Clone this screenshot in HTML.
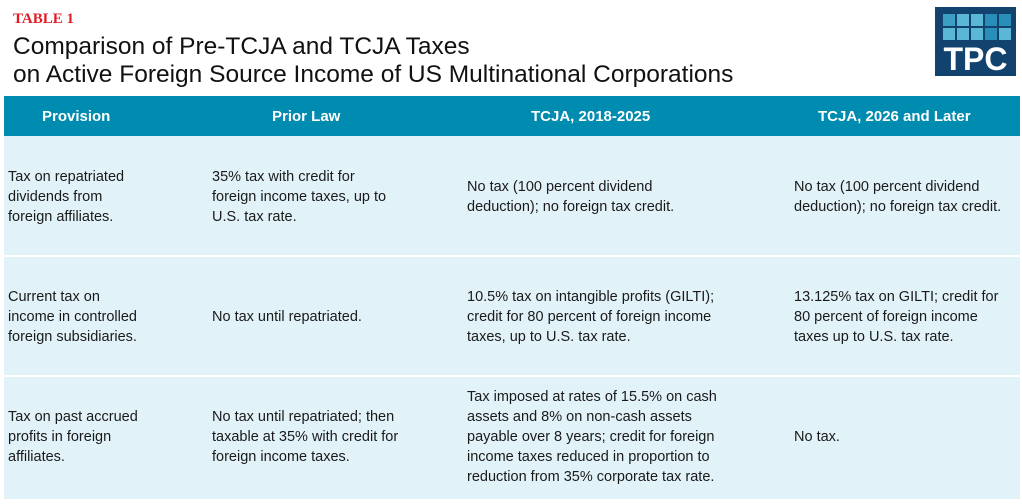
<!DOCTYPE html>
<html><head><style>
body{margin:0;width:1022px;height:504px;background:#fff;position:relative;font-family:"Liberation Sans",sans-serif;overflow:hidden}
.a{position:absolute}
.t{font-size:14.5px;line-height:20px;color:#1a1a1a}
.h{color:#fff;font-weight:bold;font-size:15px;top:108px}
.sq{position:absolute;width:12px;height:12px}
</style></head><body>
<div class="a" style="left:13px;top:11px;color:#e21b23;font-family:'Liberation Serif',serif;font-weight:bold;font-size:15px">TABLE 1</div>
<div class="a" style="left:13px;top:33px;font-size:24.5px;line-height:28px;color:#111">Comparison of Pre-TCJA and TCJA Taxes<br>on Active Foreign Source Income of US Multinational Corporations</div>
<div class="a" style="left:935px;top:7px;width:81px;height:69px;background:#12436f">
<div class="sq" style="left:8px;top:7px;background:#3d9ec4"></div><div class="sq" style="left:22px;top:7px;background:#5ab8d6"></div><div class="sq" style="left:36px;top:7px;background:#5ab8d6"></div><div class="sq" style="left:50px;top:7px;background:#2a8fb8"></div><div class="sq" style="left:64px;top:7px;background:#2a8fb8"></div>
<div class="sq" style="left:8px;top:21px;background:#5ab8d6"></div><div class="sq" style="left:22px;top:21px;background:#5ab8d6"></div><div class="sq" style="left:36px;top:21px;background:#5ab8d6"></div><div class="sq" style="left:50px;top:21px;background:#2a8fb8"></div><div class="sq" style="left:64px;top:21px;background:#5ab8d6"></div>
<div class="a" style="left:0;width:81px;top:36px;text-align:center;color:#fff;font-weight:bold;font-size:32px;line-height:32px">TPC</div>
</div>
<div class="a" style="left:4px;top:96px;width:1016px;height:40px;background:#008bb0"></div>
<div class="a h" style="left:42px">Provision</div>
<div class="a h" style="left:272px">Prior Law</div>
<div class="a h" style="left:531px">TCJA, 2018-2025</div>
<div class="a h" style="left:818px">TCJA, 2026 and Later</div>
<div class="a" style="left:4px;top:136px;width:1016px;height:119px;background:#e2f2f9"></div>
<div class="a" style="left:4px;top:257px;width:1016px;height:118px;background:#e2f2f9"></div>
<div class="a" style="left:4px;top:377px;width:1016px;height:122px;background:#e2f2f9"></div>
<div class="a t" style="left:8px;top:167px">Tax on repatriated<br>dividends from<br>foreign affiliates.</div>
<div class="a t" style="left:212px;top:167px">35% tax with credit for<br>foreign income taxes, up to<br>U.S. tax rate.</div>
<div class="a t" style="left:467px;top:177px">No tax (100 percent dividend<br>deduction); no foreign tax credit.</div>
<div class="a t" style="left:794px;top:177px">No tax (100 percent dividend<br>deduction); no foreign tax credit.</div>
<div class="a t" style="left:8px;top:287px">Current tax on<br>income in controlled<br>foreign subsidiaries.</div>
<div class="a t" style="left:212px;top:307px">No tax until repatriated.</div>
<div class="a t" style="left:467px;top:287px">10.5% tax on intangible profits (GILTI);<br>credit for 80 percent of foreign income<br>taxes, up to U.S. tax rate.</div>
<div class="a t" style="left:794px;top:287px">13.125% tax on GILTI; credit for<br>80 percent of foreign income<br>taxes up to U.S. tax rate.</div>
<div class="a t" style="left:8px;top:407px">Tax on past accrued<br>profits in foreign<br>affiliates.</div>
<div class="a t" style="left:212px;top:407px">No tax until repatriated; then<br>taxable at 35% with credit for<br>foreign income taxes.</div>
<div class="a t" style="left:467px;top:387px">Tax imposed at rates of 15.5% on cash<br>assets and 8% on non-cash assets<br>payable over 8 years; credit for foreign<br>income taxes reduced in proportion to<br>reduction from 35% corporate tax rate.</div>
<div class="a t" style="left:794px;top:427px">No tax.</div>
</body></html>
